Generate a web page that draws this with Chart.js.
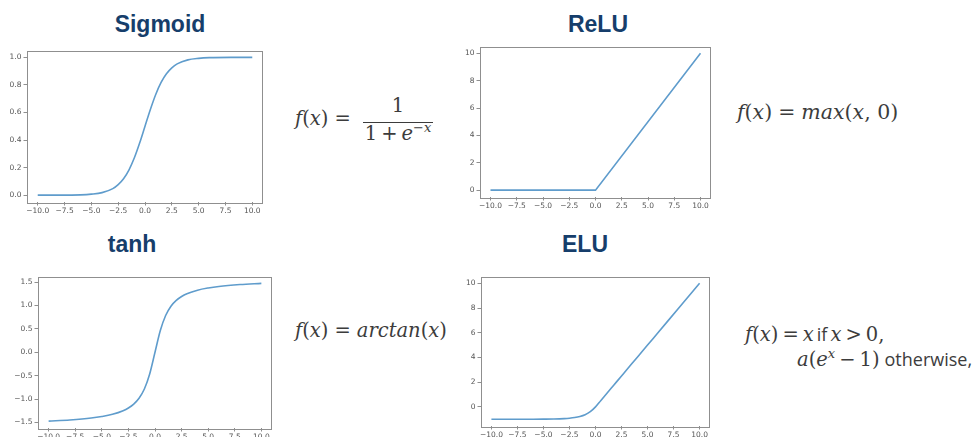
<!DOCTYPE html>
<html>
<head>
<meta charset="utf-8">
<script src="https://cdn.jsdelivr.net/npm/chart.js@4/dist/chart.umd.min.js"></script>
<style>
  html, body { margin: 0; padding: 0; background: #fff; width: 977px; height: 437px; overflow: hidden; position: relative; }
  canvas { position: absolute; }
  .title { position: absolute; transform: translateX(-50%); font: bold 23px "Liberation Sans", Arial, sans-serif; color: #163e6b; line-height: 23px; white-space: nowrap; }
  .math { position: absolute; font-family: "DejaVu Serif", serif; font-size: 19.5px; line-height: 19.5px; color: #3c3c3c; white-space: nowrap; }
  .math .rel { margin: 0 6px; }
  .math .bin { margin: 0 4px; }
  .math .sup { font-size: 13px; vertical-align: 8px; line-height: 0; }
  .math .txt { font-family: "Open Sans", sans-serif; font-size: 18px; margin: 0 5px; }
  .math.tight .rel { margin: 0 4px; }
  .math.tight .txt { margin: 0 3px; }
  .frac-line { position: absolute; height: 1px; background: #3c3c3c; }
  .center { text-align: center; }
</style>
</head>
<body>

<div class="title" style="left:160px; top:12.5px;">Sigmoid</div>
<div class="title" style="left:598px; top:12.5px;">ReLU</div>
<div class="title" style="left:132px; top:232.5px;">tanh</div>
<div class="title" style="left:585px; top:232.5px;">ELU</div>

<canvas id="sigmoid"></canvas>
<canvas id="relu"></canvas>
<canvas id="tanh"></canvas>
<canvas id="elu"></canvas>

<!-- formulas -->
<div class="math" style="left:295px; top:109px;"><i>f</i>(<i>x</i>)<span class="rel">=</span></div>
<div class="math center" style="left:363px; top:96px; width:70px;">1</div>
<div class="frac-line" style="left:363px; top:122px; width:70px;"></div>
<div class="math center" style="left:363px; top:124px; width:70px;">1<span class="bin">+</span><i>e</i><span class="sup">−<i>x</i></span></div>

<div class="math" style="left:737px; top:102px; font-size:20.5px; line-height:20.5px;"><i>f</i>(<i>x</i>)<span class="rel">=</span><i>max</i>(<i>x</i>, 0)</div>

<div class="math" style="left:295px; top:321px;"><i>f</i>(<i>x</i>)<span class="rel">=</span><i>arctan</i>(<i>x</i>)</div>

<div class="math tight" style="left:745px; top:325px;"><i>f</i>(<i>x</i>)<span class="rel">=</span><i>x</i><span class="txt">if</span><i>x</i><span class="rel">&gt;</span>0,</div>
<div class="math" style="left:797px; top:350px;"><i>a</i>(<i>e</i><span class="sup"><i>x</i></span><span class="bin">−</span>1)<span class="txt">otherwise,</span></div>

<script>
// Sample points along x, shared by the smooth curves
const xs = [-10, -8, -6, -5, -4, -3, -2.5, -2, -1.5, -1, -0.5, 0, 0.5, 1, 1.5, 2, 2.5, 3, 4, 5, 6, 8, 10];

const sigmoidValues = [0.000, 0.000, 0.002, 0.007, 0.018, 0.047, 0.076, 0.119, 0.182, 0.269, 0.378, 0.500,
                       0.622, 0.731, 0.818, 0.881, 0.924, 0.953, 0.982, 0.993, 0.998, 1.000, 1.000];

const arctanValues = [-1.471, -1.446, -1.406, -1.373, -1.326, -1.249, -1.190, -1.107, -0.983, -0.785, -0.464, 0.000,
                      0.464, 0.785, 0.983, 1.107, 1.190, 1.249, 1.326, 1.373, 1.406, 1.446, 1.471];

const eluValues = [-1.000, -1.000, -0.998, -0.993, -0.982, -0.950, -0.918, -0.865, -0.777, -0.632, -0.393, 0.000,
                   0.5, 1, 1.5, 2, 2.5, 3, 4, 5, 6, 8, 10];

const reluX = [-10, 0, 10];
const reluValues = [0, 0, 10];

// Tick positions
const xTicks = [-10, -7.5, -5, -2.5, 0, 2.5, 5, 7.5, 10];
const sigmoidYTicks = [0, 0.2, 0.4, 0.6, 0.8, 1.0];
const reluYTicks = [0, 2, 4, 6, 8, 10];
const tanhYTicks = [-1.5, -1.0, -0.5, 0, 0.5, 1.0, 1.5];
const eluYTicks = [0, 2, 4, 6, 8, 10];

// Plot frames (CSS px) and styling
const Y_AXIS_W = 27, X_AXIS_H = 16, PAD_T = 6, PAD_R = 14;
const LINE_COLOR = '#5f9ccc';
const FRAME_COLOR = '#8f8f8f';
const TICK_TEXT = '#555555';

const fmt = (digits) => (v) => {
  const s = Math.abs(v).toFixed(digits);
  return (v < 0 ? '\u2212' : '') + s;
};

const framePlugin = {
  id: 'frame',
  afterDraw(chart) {
    const { left, top, right, bottom } = chart.chartArea;
    const ctx = chart.ctx;
    ctx.save();
    ctx.strokeStyle = FRAME_COLOR;
    ctx.lineWidth = 1;
    ctx.strokeRect(Math.round(left) + 0.5, Math.round(top) + 0.5, Math.round(right - left) - 1, Math.round(bottom - top));
    ctx.restore();
  }
};

function makeChart(id, box, xVals, yVals, yRange, yTicks, yDigits, smooth) {
  const canvas = document.getElementById(id);
  const w = box.r - box.l + Y_AXIS_W + PAD_R;
  const h = box.b - box.t + PAD_T + X_AXIS_H;
  canvas.style.left = (box.l - Y_AXIS_W) + 'px';
  canvas.style.top = (box.t - PAD_T) + 'px';
  canvas.width = w; canvas.height = h;
  canvas.style.width = w + 'px'; canvas.style.height = h + 'px';

  const tickFont = { family: '"DejaVu Sans", sans-serif', size: 7.5 };
  const gridOpts = { display: true, drawOnChartArea: false, drawTicks: true, tickLength: 3.5, color: FRAME_COLOR };

  return new Chart(canvas, {
    type: 'line',
    data: {
      datasets: [{
        data: xVals.map((x, i) => ({ x, y: yVals[i] })),
        borderColor: LINE_COLOR,
        borderWidth: 1.6,
        pointRadius: 0,
        fill: false,
        tension: 0,
        cubicInterpolationMode: smooth ? 'monotone' : 'default'
      }]
    },
    options: {
      responsive: false,
      animation: false,
      devicePixelRatio: 1,
      layout: { padding: { left: 0, right: PAD_R, top: PAD_T, bottom: 0 } },
      plugins: { legend: { display: false }, tooltip: { enabled: false }, title: { display: false } },
      scales: {
        x: {
          type: 'linear', min: -11, max: 11,
          border: { display: false },
          grid: gridOpts,
          afterBuildTicks: (s) => { s.ticks = xTicks.map(v => ({ value: v })); },
          afterFit: (s) => { s.height = X_AXIS_H; },
          ticks: { color: TICK_TEXT, font: tickFont, padding: 1.5, maxRotation: 0, autoSkip: false, callback: fmt(1) }
        },
        y: {
          type: 'linear', min: yRange[0], max: yRange[1],
          border: { display: false },
          grid: gridOpts,
          afterBuildTicks: (s) => { s.ticks = yTicks.map(v => ({ value: v })); },
          afterFit: (s) => { s.width = Y_AXIS_W; },
          ticks: { color: TICK_TEXT, font: tickFont, padding: 2, autoSkip: false, callback: fmt(yDigits) }
        }
      }
    },
    plugins: [framePlugin]
  });
}

makeChart('sigmoid', { l: 27, t: 50, r: 263, b: 202 }, xs, sigmoidValues, [-0.05, 1.05], sigmoidYTicks, 1, true);
makeChart('relu', { l: 480, t: 46, r: 711, b: 197 }, reluX, reluValues, [-0.5, 10.5], reluYTicks, 0, false);
makeChart('tanh', { l: 38, t: 276, r: 272, b: 428 }, xs, arctanValues, [-1.618, 1.618], tanhYTicks, 1, true);
makeChart('elu', { l: 481, t: 276, r: 710, b: 426 }, xs, eluValues, [-1.55, 10.55], eluYTicks, 0, true);
</script>
</body>
</html>
